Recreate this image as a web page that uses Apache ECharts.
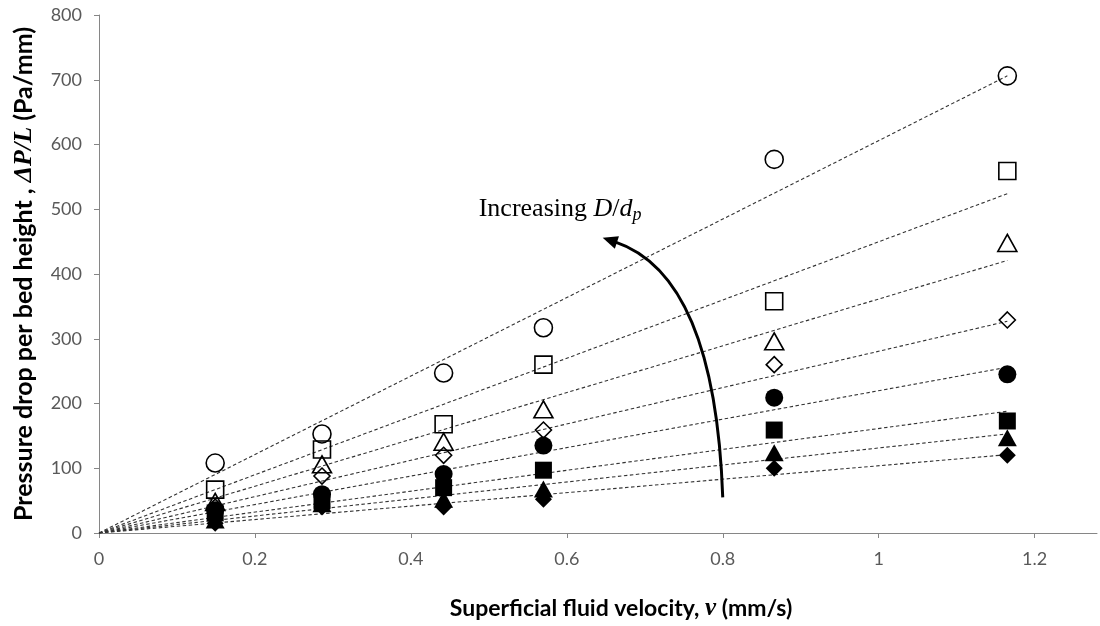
<!DOCTYPE html>
<html>
<head>
<meta charset="utf-8">
<script src="https://cdn.jsdelivr.net/npm/echarts@6/dist/echarts.min.js"></script>
<style>
  html, body { margin: 0; padding: 0; background: #fff; }
  #grafico { width: 1100px; height: 626px; }
</style>
</head>
<body>
<div id="grafico"></div>
<script>
// superficial velocity (mm/s) for every measured point
var velocity = [0.149, 0.286, 0.442, 0.570, 0.866, 1.165];

// pressure drop per bed height (Pa/mm), one array per D/dp
var openCircle    = [108, 153, 247, 317, 577, 706];
var openSquare    = [67, 129, 168, 260, 358, 559];
var openTriangle  = [48, 106, 141, 191, 296, 448];
var openDiamond   = [40, 88, 120, 159, 260, 329];
var fullCircle    = [35, 60, 91, 135, 209, 245];
var fullSquare    = [31, 50, 70, 97, 159, 173];
var fullTriangle  = [20, 45, 52, 68, 124, 147];
var fullDiamond   = [15, 40, 40, 52, 100, 120];

// linear fits through the origin, value reached at trendX
var trendX   = 1.165;
var trendEnd = [706, 524, 421, 327, 256, 188, 153, 121];

var yTicks = [0, 800, 100];
var xTicks = [0, 1.28, 0.2];

// annotation arrow, in data coordinates
var arrowStart = [0.80, 55];
var arrowCtrl  = [0.790, 398];
var arrowTip   = [0.646, 456];
var labelPos   = [0.487, 500];

var diamondPath = 'path://M0,-1L1,0L0,1L-1,0Z';

var markers = [
  { data: openCircle,   symbol: 'circle',   size: 18, filled: false },
  { data: openSquare,   symbol: 'rect',     size: 17, filled: false },
  { data: openTriangle, symbol: 'triangle', size: [19, 17], filled: false },
  { data: openDiamond,  symbol: diamondPath, size: 16, filled: false },
  { data: fullCircle,   symbol: 'circle',   size: 18, filled: true },
  { data: fullSquare,   symbol: 'rect',     size: 17, filled: true },
  { data: fullTriangle, symbol: 'triangle', size: [19, 17], filled: true },
  { data: fullDiamond,  symbol: diamondPath, size: 17, filled: true }
];

function pares(xs, ys) {
  var out = [];
  for (var i = 0; i < xs.length; i++) out.push([xs[i], ys[i]]);
  return out;
}

function armarSeries() {
  var series = [];
  for (var i = 0; i < markers.length; i++) {
    series.push({
      type: 'line',
      data: [[0, 0], [trendX, trendEnd[i]]],
      showSymbol: false,
      silent: true,
      z: 2,
      lineStyle: { color: '#333', width: 1.1, type: [3.5, 2.5] }
    });
  }
  for (var j = 0; j < markers.length; j++) {
    var m = markers[j];
    series.push({
      type: 'scatter',
      data: pares(velocity, m.data),
      symbol: m.symbol,
      symbolSize: m.size,
      z: 3,
      itemStyle: {
        color: m.filled ? '#000' : 'rgba(0,0,0,0)',
        borderColor: '#000',
        borderWidth: m.filled ? 0 : 1.6,
        opacity: 1
      }
    });
  }
  return series;
}

var chart = echarts.init(document.getElementById('grafico'));

chart.setOption({
  animation: false,
  backgroundColor: '#fff',
  grid: { left: 99, right: 3, top: 15, bottom: 83 },
  xAxis: {
    type: 'value',
    min: xTicks[0], max: xTicks[1], interval: xTicks[2],
    name: '{b|Superficial fluid velocity, }{i|v}{b| (mm/s)}',
    nameLocation: 'middle',
    nameGap: 63,
    nameTextStyle: {
      padding: [0, 0, 0, 46],
      rich: {
        b: { fontFamily: 'Lato', fontWeight: 'bold', fontSize: 23, color: '#000' },
        i: { fontFamily: 'Liberation Serif', fontStyle: 'italic', fontWeight: 'bold', fontSize: 25, color: '#000' }
      }
    },
    splitLine: { show: false },
    axisLine: { lineStyle: { color: '#868686', width: 1 } },
    axisTick: { show: true, length: 5, lineStyle: { color: '#868686' } },
    axisLabel: { showMaxLabel: false, color: '#595959', fontFamily: 'Lato', fontSize: 18, margin: 17 }
  },
  yAxis: {
    type: 'value',
    min: yTicks[0], max: yTicks[1], interval: yTicks[2],
    name: '{b|Pressure drop per bed height , }{i|ΔP/L}{b| (Pa/mm)}',
    nameLocation: 'middle',
    nameGap: 62,
    nameTextStyle: {
      rich: {
        b: { fontFamily: 'Lato', fontWeight: 'bold', fontSize: 25, color: '#000' },
        i: { fontFamily: 'Liberation Serif', fontStyle: 'italic', fontWeight: 'bold', fontSize: 26, color: '#000' }
      }
    },
    splitLine: { show: false },
    axisLine: { show: true, lineStyle: { color: '#868686', width: 1 } },
    axisTick: { show: true, length: 5, lineStyle: { color: '#868686' } },
    axisLabel: { color: '#595959', fontFamily: 'Lato', fontSize: 18, margin: 17 }
  },
  series: armarSeries()
});

function dibujarFlecha() {
  var p0 = chart.convertToPixel({ gridIndex: 0 }, arrowStart);
  var c  = chart.convertToPixel({ gridIndex: 0 }, arrowCtrl);
  var p2 = chart.convertToPixel({ gridIndex: 0 }, arrowTip);
  var t  = chart.convertToPixel({ gridIndex: 0 }, labelPos);

  var dx = p2[0] - c[0], dy = p2[1] - c[1];
  var len = Math.sqrt(dx * dx + dy * dy);
  var ux = dx / len, uy = dy / len;
  var px = -uy, py = ux;
  var headL = 15, headW = 6.5;
  var bx = p2[0] - ux * headL, by = p2[1] - uy * headL;

  chart.setOption({
    graphic: [
      {
        type: 'bezierCurve',
        shape: { x1: p0[0], y1: p0[1], x2: bx + ux * 2, y2: by + uy * 2, cpx1: c[0], cpy1: c[1] },
        style: { stroke: '#000', lineWidth: 3, fill: null },
        z: 10
      },
      {
        type: 'polygon',
        shape: { points: [[p2[0], p2[1]], [bx + px * headW, by + py * headW], [bx - px * headW, by - py * headW]] },
        style: { fill: '#000' },
        z: 10
      },
      {
        type: 'text',
        x: t[0], y: t[1],
        style: {
          text: '{r|Increasing }{i|D}{r|/}{i|d}{s|p}',
          verticalAlign: 'middle',
          rich: {
            r: { fontFamily: 'Liberation Serif', fontSize: 26, fill: '#000' },
            i: { fontFamily: 'Liberation Serif', fontStyle: 'italic', fontSize: 26, fill: '#000' },
            s: { fontFamily: 'Liberation Serif', fontStyle: 'italic', fontSize: 18, fill: '#000', padding: [13, 0, 0, 0] }
          }
        },
        z: 10
      }
    ]
  });
}

dibujarFlecha();
</script>
</body>
</html>
